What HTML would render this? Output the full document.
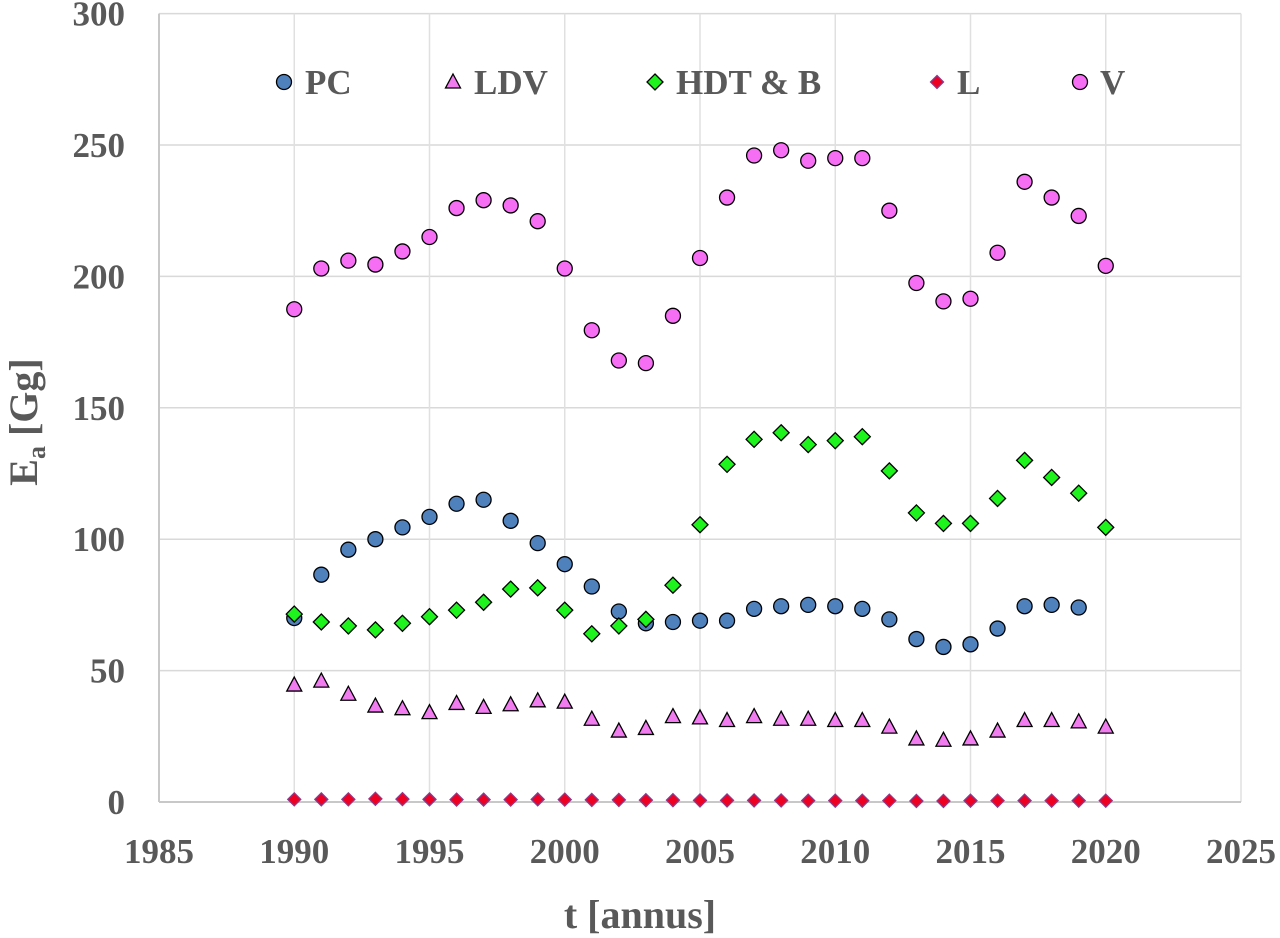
<!DOCTYPE html>
<html><head><meta charset="utf-8"><style>
html,body{margin:0;padding:0;background:#fff;}
svg{display:block;font-family:"Liberation Serif",serif;font-weight:bold;}
</style></head><body>
<svg id="chart" width="1280" height="938" viewBox="0 0 1280 938" xmlns="http://www.w3.org/2000/svg">
<g id="grid"></g>
<g id="axes"></g>
<g id="marks"></g>
<g id="legend"></g>
<text x="640" y="928" text-anchor="middle" font-size="40" fill="#595959">t [annus]</text>
<text transform="translate(37,422) rotate(-90)" text-anchor="middle" font-size="40" fill="#595959">E<tspan font-size="26" dy="8">a</tspan><tspan dy="-8"> [Gg]</tspan></text>
</svg>
<script>
const years=[1990,1991,1992,1993,1994,1995,1996,1997,1998,1999,2000,2001,2002,2003,2004,2005,2006,2007,2008,2009,2010,2011,2012,2013,2014,2015,2016,2017,2018,2019,2020];
const pcValues=[70,86.5,96,100,104.5,108.5,113.5,115,107,98.5,90.5,82,72.5,68,68.5,69,69,73.5,74.5,75,74.5,73.5,69.5,62,59,60,66,74.5,75,74,null];
const ldvValues=[44.5,46,41,36.5,35.5,34,37.5,36,37,38.5,38,31.5,27,28,32.5,32,31,32.5,31.5,31.5,31,31,28.5,24,23.5,24,27,31,31,30.5,28.5];
const hdtValues=[71.5,68.5,67,65.5,68,70.5,73,76,81,81.5,73,64,67,69.5,82.5,105.5,128.5,138,140.5,136,137.5,139,126,110,106,106,115.5,130,123.5,117.5,104.5];
const lValues=[1,1,1,1.2,1.1,1,0.9,0.9,0.9,1,0.9,0.8,0.8,0.7,0.7,0.6,0.6,0.6,0.6,0.5,0.5,0.5,0.5,0.4,0.4,0.5,0.5,0.5,0.5,0.5,0.5];
const vValues=[187.5,203,206,204.5,209.5,215,226,229,227,221,203,179.5,168,167,185,207,230,246,248,244,245,245,225,197.5,190.5,191.5,209,236,230,223,204];
const xTicks=[1985,1990,1995,2000,2005,2010,2015,2020,2025];
const yTicks=[0,50,100,150,200,250,300];
const NS="http://www.w3.org/2000/svg";
const X0=159,X1=1241,Y0=802,Y1=13.6;
const xs=v=>X0+(v-1985)/40*(X1-X0);
const ys=v=>Y0-(v/300)*(Y0-Y1);
function mk(tag,attrs,parent){const e=document.createElementNS(NS,tag);for(const k in attrs)e.setAttribute(k,attrs[k]);parent.appendChild(e);return e;}
const grid=document.getElementById('grid'),axes=document.getElementById('axes'),marks=document.getElementById('marks'),legend=document.getElementById('legend');
yTicks.forEach(t=>{
 if(t>0){const l=mk('line',{x1:X0,x2:X1,y1:ys(t),y2:ys(t),stroke:'#d9d9d9','stroke-width':1.5},grid);
 
 }
 const tx=mk('text',{x:125,y:ys(t)+12,'text-anchor':'end','font-size':35,fill:'#595959'},axes);tx.textContent=t;
 
 
});
xTicks.forEach(t=>{
 if(t>1985){const l=mk('line',{x1:xs(t),x2:xs(t),y1:Y0,y2:Y1,stroke:'#e0e0e0','stroke-width':1.5},grid);
 
 }
 const tx=mk('text',{x:xs(t),y:863,'text-anchor':'middle','font-size':35,fill:'#595959'},axes);tx.textContent=t;
 
 
});
const ax=mk('line',{x1:X0,x2:X1,y1:Y0,y2:Y0,stroke:'#c8c8c8','stroke-width':2},axes);


const ayl=mk('line',{x1:X0,x2:X0,y1:Y0,y2:Y1,stroke:'#c8c8c8','stroke-width':2},axes);


function marker(type,cx,cy,fill,parent,r,stroke){
 let e;const st=stroke||'#000';
 if(type==='circle')e=mk('circle',{cx:cx,cy:cy,r:r||7.5,fill:fill,stroke:st,'stroke-width':1.3},parent);
 else if(type==='tri')e=mk('polygon',{points:`${cx},${cy-8} ${cx+7.5},${cy+6} ${cx-7.5},${cy+6}`,fill:fill,stroke:st,'stroke-width':1.3},parent);
 else {const s=r||8;e=mk('polygon',{points:`${cx},${cy-s} ${cx+s},${cy} ${cx},${cy+s} ${cx-s},${cy}`,fill:fill,stroke:st,'stroke-width':1.3},parent);}
 return e;
}
const series=[
 {name:'PC',vals:pcValues,type:'circle',fill:'#4f81bd'},
 {name:'LDV',vals:ldvValues,type:'tri',fill:'#f17cf0'},
 {name:'HDT & B',vals:hdtValues,type:'dia',fill:'#1ef31e'},
 {name:'L',vals:lValues,type:'dia',fill:'#ee0022',r:6.5,stroke:'#8a3a8a'},
 {name:'V',vals:vValues,type:'circle',fill:'#f56ef3'}];
series.forEach(s=>{
 s.vals.forEach((v,i)=>{
  if(v==null)return;
  const m=marker(s.type,xs(years[i]),ys(v),s.fill,marks,s.r,s.stroke);
  
  
 });
});
const legPos=[[284,305],[453,474],[655,676],[937,957],[1080,1100]];
series.forEach((s,i)=>{
 const m=marker(s.type,legPos[i][0],82,s.fill,legend,s.r,s.stroke);
 
 
 const t=mk('text',{x:legPos[i][1],y:94,'font-size':35,fill:'#595959'},legend);t.textContent=s.name;
 
 
});
</script>
</body></html>
